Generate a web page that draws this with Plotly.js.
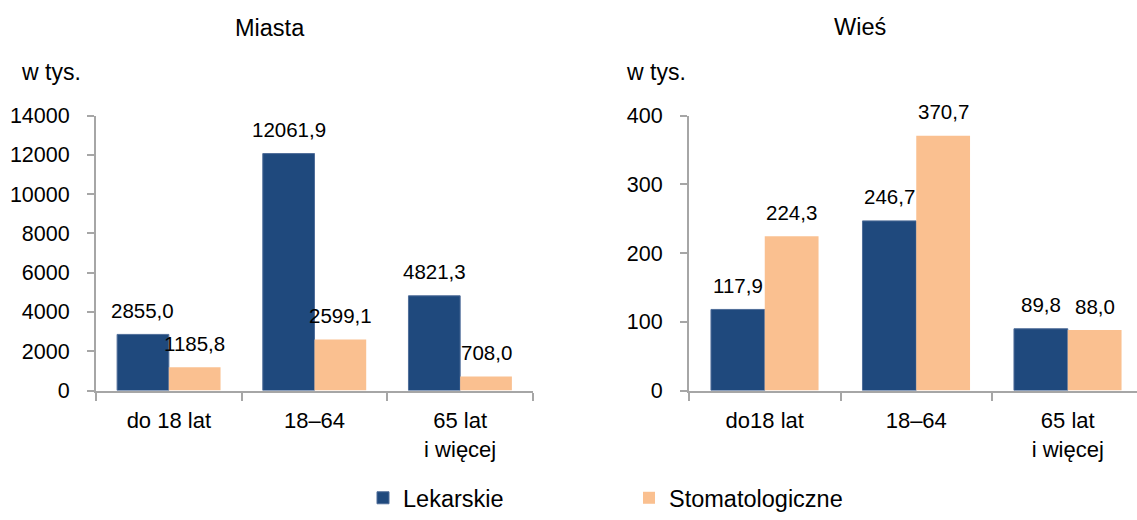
<!DOCTYPE html>
<html>
<head>
<meta charset="utf-8">
<script src="https://cdn.plot.ly/plotly-3.0.1.min.js"></script>
<style>html,body{margin:0;padding:0;background:#fff;}#chart{width:1137px;height:520px;}</style>
</head>
<body>
<div id="chart"></div>
<script>
// ---- data ----
const categoriesMiasta = ['do 18 lat', '18–64', '65 lat<br>i więcej'];
const categoriesWies = ['do18 lat', '18–64', '65 lat<br>i więcej'];
const lekarskieMiasta = [2855.0, 12061.9, 4821.3];
const stomatologiczneMiasta = [1185.8, 2599.1, 708.0];
const lekarskieWies = [117.9, 246.7, 89.8];
const stomatologiczneWies = [224.3, 370.7, 88.0];
const seriesNames = ['Lekarskie', 'Stomatologiczne'];
const panelTitles = ['Miasta', 'Wieś'];
const unitLabel = 'w tys.';
const yTicksMiasta = [0, 2000, 4000, 6000, 8000, 10000, 12000, 14000];
const yTicksWies = [0, 100, 200, 300, 400];

// ---- style ----
const W = 1137, H = 520;
const FONT = 'Liberation Sans, Arial, sans-serif';
const BLUE = '#1f497d';
const PEACH = '#fac090';
const AXIS = '#a6a6a6';
const BARGAP = 0.29;
const px = v => v / W;
const py = v => 1 - v / H;

const fmt = v => v.toFixed(1).replace('.', ',');

function barTrace(x, y, name, color, xa, ya, showlegend) {
  return {
    type: 'bar', x: x, y: y, name: name, xaxis: xa, yaxis: ya,
    marker: {color: color, line: {width: color === BLUE ? 1 : 0, color: '#4f6d99'}},
    showlegend: showlegend, legendgroup: name, hoverinfo: 'x+y'
  };
}

const data = [
  barTrace(categoriesMiasta, lekarskieMiasta, seriesNames[0], BLUE, 'x', 'y', true),
  barTrace(categoriesMiasta, stomatologiczneMiasta, seriesNames[1], PEACH, 'x', 'y', true),
  barTrace(categoriesWies, lekarskieWies, seriesNames[0], BLUE, 'x2', 'y2', false),
  barTrace(categoriesWies, stomatologiczneWies, seriesNames[1], PEACH, 'x2', 'y2', false)
];

// data labels as annotations, positioned on the bar centres via axis scale
const half = (1 - BARGAP) / 4;
const annotations = [];
function addLabels(values, xref, yref, side) {
  values.forEach((v, i) => {
    annotations.push({
      x: i + side * half, y: v, xref: xref, yref: yref,
      text: fmt(v), showarrow: false, yanchor: 'middle', yshift: 24,
      font: {family: FONT, size: 20.5, color: '#000'}
    });
  });
}
addLabels(lekarskieMiasta, 'x', 'y', -1);
addLabels(stomatologiczneMiasta, 'x', 'y', 1);
addLabels(lekarskieWies, 'x2', 'y2', -1);
addLabels(stomatologiczneWies, 'x2', 'y2', 1);

// panel titles and unit labels
annotations.push({xref: 'paper', yref: 'paper', x: px(270), y: py(28), text: panelTitles[0], showarrow: false,
  xanchor: 'center', yanchor: 'middle', font: {family: FONT, size: 23.5, color: '#000'}});
annotations.push({xref: 'paper', yref: 'paper', x: px(860), y: py(27), text: panelTitles[1], showarrow: false,
  xanchor: 'center', yanchor: 'middle', font: {family: FONT, size: 23.5, color: '#000'}});
annotations.push({xref: 'paper', yref: 'paper', x: px(19), y: py(72), text: unitLabel, showarrow: false,
  xanchor: 'left', yanchor: 'middle', font: {family: FONT, size: 23, color: '#000'}});
annotations.push({xref: 'paper', yref: 'paper', x: px(624), y: py(72), text: unitLabel, showarrow: false,
  xanchor: 'left', yanchor: 'middle', font: {family: FONT, size: 23, color: '#000'}});

const yDomain = [py(390.5), py(115.5)];
const xAxisCommon = {
  type: 'category', showline: true, linecolor: AXIS, linewidth: 2,
  ticks: 'outside', tickson: 'boundaries', ticklen: 8, tickcolor: AXIS, tickwidth: 2,
  showgrid: false, zeroline: false, fixedrange: true, automargin: false,
  ticklabelstandoff: 9,
  tickfont: {family: FONT, size: 22, color: '#000'}
};
const yAxisCommon = {
  showline: true, linecolor: AXIS, linewidth: 2,
  ticks: 'outside', ticklen: 7, tickcolor: AXIS, tickwidth: 2,
  showgrid: false, zeroline: false, fixedrange: true, tickmode: 'array', automargin: false,
  ticklabelstandoff: 13,
  tickfont: {family: FONT, size: 21.5, color: '#000'}, domain: yDomain
};

const layout = {
  width: W, height: H,
  margin: {l: 0, r: 0, t: 0, b: 0, pad: 0, autoexpand: false},
  paper_bgcolor: '#fff', plot_bgcolor: '#fff',
  barmode: 'group', bargap: BARGAP, bargroupgap: 0,
  font: {family: FONT, color: '#000'},
  xaxis: Object.assign({}, xAxisCommon, {domain: [px(96), px(533)], range: [-0.5, 2.5], anchor: 'y'}),
  yaxis: Object.assign({}, yAxisCommon, {range: [0, 14000], tickvals: yTicksMiasta,
    ticktext: yTicksMiasta.map(String), anchor: 'x'}),
  xaxis2: Object.assign({}, xAxisCommon, {domain: [px(689), 1], range: [-0.5, 2.457], anchor: 'y2'}),
  yaxis2: Object.assign({}, yAxisCommon, {range: [0, 400], tickvals: yTicksWies,
    ticktext: yTicksWies.map(String), anchor: 'x2'}),
  showlegend: true,
  legend: {
    orientation: 'h', x: px(363), y: 0, xanchor: 'left', yanchor: 'bottom',
    font: {family: FONT, size: 23.5, color: '#000'}, borderwidth: 0,
    entrywidth: 221, entrywidthmode: 'pixels', itemclick: false, itemdoubleclick: false,
    bgcolor: 'rgba(0,0,0,0)', tracegroupgap: 0
  },
  annotations: annotations
};

Plotly.newPlot('chart', data, layout, {displayModeBar: false, staticPlot: true});
</script>
</body>
</html>
